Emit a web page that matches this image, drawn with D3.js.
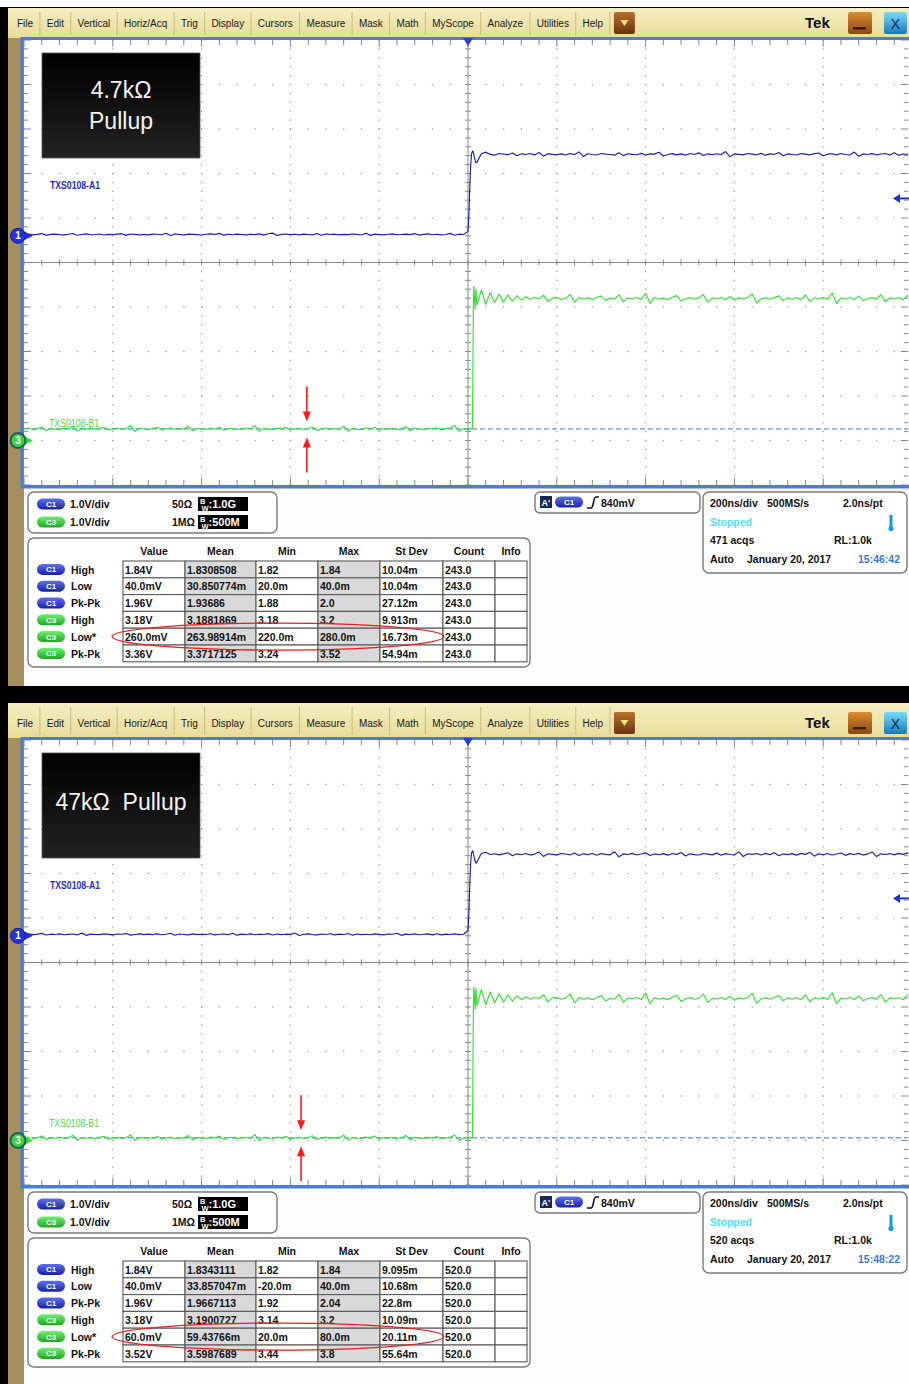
<!DOCTYPE html>
<html><head><meta charset="utf-8">
<script src="https://cdn.jsdelivr.net/npm/d3@7"></script>
<style>
body{margin:0;background:#fff}
svg{display:block}
text{font-family:"Liberation Sans",Arial,sans-serif}
</style>
</head><body>
<svg id="c" width="909" height="1384"></svg>
<script>
// ---------------- DATA ----------------
const menuItems = ["File","Edit","Vertical","Horiz/Acq","Trig","Display","Cursors","Measure","Mask","Math","MyScope","Analyze","Utilities","Help"];
const titleLines1 = ["4.7kΩ","Pullup"];
const titleLines2 = ["47kΩ  Pullup"];
const traceLabels = ["TXS0108-A1","TXS0108-B1"];
const channelNames = ["C1","C3"];
const channelScales = ["1.0V/div","1.0V/div"];
const channelImpedance = ["50Ω","1MΩ"];
const channelBandwidth = ["1.0G","500M"];
const channelPositionDiv = [0.6, -4.0];
const triggerLevelV = 0.84;
const triggerLabel = "840mV";
const timeDomainNs = [-1000, 1000];
const timebase = ["200ns/div","500MS/s","2.0ns/pt"];
const acqCounts = ["471 acqs","520 acqs"];
const recordLength = "RL:1.0k";
const acqDate = "January 20, 2017";
const acqTimes = ["15:46:42","15:48:22"];
const measColumns = ["Value","Mean","Min","Max","St Dev","Count","Info"];
const measRowChannels = ["C1","C1","C1","C3","C3","C3"];
const measRowNames = ["High","Low","Pk-Pk","High","Low*","Pk-Pk"];
const meas1 = [
 ["1.84V","1.8308508","1.82","1.84","10.04m","243.0",""],
 ["40.0mV","30.850774m","20.0m","40.0m","10.04m","243.0",""],
 ["1.96V","1.93686","1.88","2.0","27.12m","243.0",""],
 ["3.18V","3.1881869","3.18","3.2","9.913m","243.0",""],
 ["260.0mV","263.98914m","220.0m","280.0m","16.73m","243.0",""],
 ["3.36V","3.3717125","3.24","3.52","54.94m","243.0",""]];
const meas2 = [
 ["1.84V","1.8343111","1.82","1.84","9.095m","520.0",""],
 ["40.0mV","33.857047m","-20.0m","40.0m","10.68m","520.0",""],
 ["1.96V","1.9667113","1.92","2.04","22.8m","520.0",""],
 ["3.18V","3.1900727","3.14","3.2","10.09m","520.0",""],
 ["60.0mV","59.43766m","20.0m","80.0m","20.11m","520.0",""],
 ["3.52V","3.5987689","3.44","3.8","55.64m","520.0",""]];
const c3LowV = [0.26, 0.06];
const arrowTimeNs = [-363, -376];

// trace samples (mV): pre-trigger (-1000..-10 ns), edge (edgeTimes), post (20..1000 ns)
const edgeTimes = [0,2,4,6,8,10,11,12,13,14,16,18];
const c1Pre1 = [30,40,22,33,50,15,31,38,26,20,36,52,12,30,42,24,28,40,18,32,25,38,48,10,40,33,22,30,20,38,34,24,58,8,42,30,20,36,31,26,18,34,42,28,54,14,35,24,38,30,22,36,27,44,16,46,60,6,32,40,25,34,20,38,30,22,50,12,42,30,36,22,31,26,40,33,18,56,10,38,30,22,35,44,24,30,38,26,50,15,32,42,24,34,20,30,55,12,36,30];
const c1Edge1 = [100,480,1080,1580,1840,1900,1905,1880,1830,1780,1700,1640];
const c1Post1 = [1650,1845,1880,1830,1812,1848,1838,1820,1862,1800,1842,1826,1850,1818,1872,1790,1846,1830,1820,1842,1815,1848,1828,1886,1780,1844,1826,1816,1850,1836,1826,1812,1868,1802,1845,1830,1822,1852,1815,1840,1835,1878,1792,1828,1846,1818,1840,1812,1850,1828,1864,1806,1842,1822,1844,1828,1892,1774,1842,1830,1818,1850,1836,1820,1852,1812,1842,1826,1872,1798,1840,1828,1815,1848,1836,1820,1846,1860,1800,1834,1844,1818,1850,1828,1816,1882,1788,1840,1826,1846,1820,1838,1850,1814,1864,1808,1838,1826,1844];
const c3Pre1 = [265,280,248,262,305,222,275,256,245,278,258,315,212,270,250,282,255,272,295,235,260,276,248,268,335,200,280,258,246,272,290,236,262,280,250,268,255,320,215,270,262,248,282,255,300,228,270,276,246,262,280,255,330,205,272,260,245,278,266,292,235,260,276,248,270,305,222,258,280,250,270,256,322,210,276,252,246,285,258,296,232,270,255,278,245,262,310,220,280,258,248,272,258,288,240,266,278,335,205,265];
const c3Edge1 = [262,250,275,258,268,300,1500,3000,3470,3330,2960,3400];
const c3Post1 = [3050,3380,3060,3320,3100,3290,3110,3270,3130,3250,3160,3230,3170,3220,3180,3265,3125,3200,3215,3170,3195,3285,3105,3210,3175,3205,3165,3220,3245,3145,3200,3175,3275,3115,3205,3180,3215,3170,3305,3085,3210,3175,3200,3165,3220,3255,3135,3185,3210,3175,3205,3280,3110,3200,3180,3215,3170,3235,3155,3205,3180,3215,3295,3095,3180,3205,3175,3210,3250,3145,3205,3175,3215,3165,3270,3120,3205,3180,3210,3170,3315,3080,3205,3175,3215,3170,3245,3145,3185,3210,3175,3275,3115,3205,3180,3215,3165,3260,3135];
const c1Pre2 = [34,44,26,38,54,18,36,28,42,24,33,40,22,60,10,38,30,25,44,32,20,40,34,50,16,30,42,26,38,28,44,24,34,58,12,40,30,22,42,26,36,30,46,20,34,40,25,56,14,38,28,42,24,36,30,48,18,40,26,36,32,62,8,34,44,28,22,40,30,46,20,38,30,52,14,40,26,36,24,44,32,22,40,34,58,10,38,28,44,24,34,42,20,46,22,38,30,44,26,34];
const c1Edge2 = [120,540,1140,1640,1860,1910,1900,1860,1810,1760,1680,1630];
const c1Post2 = [1660,1850,1876,1826,1844,1818,1840,1866,1800,1842,1822,1850,1814,1836,1882,1784,1844,1830,1818,1848,1838,1816,1860,1806,1842,1824,1850,1812,1848,1830,1820,1890,1776,1840,1826,1852,1816,1838,1864,1804,1840,1822,1846,1812,1850,1830,1872,1794,1842,1824,1816,1850,1836,1818,1858,1810,1846,1826,1820,1886,1780,1844,1830,1850,1814,1852,1822,1868,1800,1840,1824,1846,1812,1852,1830,1878,1790,1842,1820,1848,1816,1838,1860,1808,1846,1826,1852,1814,1840,1884,1784,1842,1826,1848,1818,1852,1830,1864,1804];
const c3Pre2 = [60,72,45,62,100,22,70,50,76,48,62,115,10,68,50,70,45,74,95,28,58,70,46,62,125,2,72,52,66,46,92,30,60,74,44,64,52,110,14,68,60,46,76,58,98,24,64,72,44,58,74,50,130,-4,70,56,46,76,62,90,30,58,72,46,66,105,18,60,76,50,66,56,120,6,72,50,44,76,60,98,26,66,52,72,46,62,112,12,74,56,48,70,60,86,34,58,72,122,4,62];
const c3Edge2 = [62,70,50,65,55,90,1400,2900,3450,3350,2950,3420];
const c3Post2 = [3030,3390,3050,3340,3090,3300,3110,3270,3130,3250,3165,3230,3175,3215,3185,3275,3115,3205,3210,3175,3200,3295,3095,3210,3175,3205,3165,3215,3255,3135,3195,3175,3285,3105,3205,3180,3215,3170,3315,3075,3205,3175,3200,3165,3220,3265,3125,3185,3210,3175,3200,3290,3100,3195,3180,3215,3170,3240,3150,3205,3180,3215,3305,3085,3180,3205,3175,3215,3255,3140,3205,3175,3210,3165,3275,3115,3205,3180,3210,3170,3320,3075,3200,3180,3215,3170,3250,3140,3190,3210,3175,3280,3110,3205,3185,3215,3165,3265,3130];

// ---------------- DRAWING ----------------
const svg = d3.select("#c");
const defs = svg.append("defs");
function lg(id, a, b) {
  const g = defs.append("linearGradient").attr("id", id).attr("x1",0).attr("y1",0).attr("x2",0).attr("y2",1);
  g.append("stop").attr("offset","0%").attr("stop-color",a);
  g.append("stop").attr("offset","100%").attr("stop-color",b);
}
lg("menuG","#f5eec0","#e8dc9a");
lg("blueBadge","#6070f0","#1a22a8");
lg("greenBadge","#70f070","#1fa81f");
lg("brownBtn","#b8702c","#6a3410");
lg("orangeBtn","#dc8c30","#8a4812");
lg("cyanBtn","#78dcf8","#1a78c0");
lg("titleBox","#000000","#222222");

const panels = [
  {oy:0, menuTop:8, menuBottom:38, infoBottom:686, title:titleLines1, meas:meas1, acq:acqCounts[0], time:acqTimes[0], low:c3LowV[0], arrowT:arrowTimeNs[0],
   tr:[[c1Pre1,c1Edge1,c1Post1],[c3Pre1,c3Edge1,c3Post1]]},
  {oy:700, menuTop:703, menuBottom:738, infoBottom:1384, title:titleLines2, meas:meas2, acq:acqCounts[1], time:acqTimes[1], low:c3LowV[1], arrowT:arrowTimeNs[1],
   tr:[[c1Pre2,c1Edge2,c1Post2],[c3Pre2,c3Edge2,c3Post2]]}
];

svg.append("rect").attr("x",0).attr("y",0).attr("width",909).attr("height",1384).attr("fill","#fff");
svg.append("rect").attr("x",0).attr("y",7).attr("width",909).attr("height",2).attr("fill","#000");
svg.append("rect").attr("x",0).attr("y",7).attr("width",8).attr("height",1377).attr("fill","#000");
svg.append("rect").attr("x",0).attr("y",686).attr("width",909).attr("height",17).attr("fill","#000");

function badge(g, x, cy, ch) {
  g.append("rect").attr("x",x).attr("y",cy-5.5).attr("width",28).attr("height",11).attr("rx",5.5)
    .attr("fill", ch==="C1" ? "url(#blueBadge)" : "url(#greenBadge)");
  g.append("text").attr("x",x+14).attr("y",cy+3).attr("text-anchor","middle").attr("font-size",8)
    .attr("font-weight","bold").attr("fill","#fff").text(ch);
}

const chColors = ["#1e1eb4","#36e036"];

panels.forEach((P, pi) => {
  const oy = P.oy;
  const g = svg.append("g");
  g.append("rect").attr("x",8).attr("y",P.menuBottom).attr("width",16).attr("height",P.infoBottom-P.menuBottom).attr("fill","#a58f5a");
  g.append("rect").attr("x",24).attr("y",oy+488).attr("width",885).attr("height",P.infoBottom-(oy+488)).attr("fill","#fefefd");

  // ---- menu bar ----
  g.append("rect").attr("x",8).attr("y",P.menuTop).attr("width",901).attr("height",P.menuBottom-P.menuTop).attr("fill","url(#menuG)");
  let mx = 17, sx = 0;
  menuItems.forEach(m => {
    const t = g.append("text").attr("x",mx).attr("y",oy+27).attr("font-size",10).attr("fill","#1a1a1a").text(m);
    const w = t.node().getComputedTextLength();
    sx = mx + w + 6.8;
    g.append("line").attr("x1",sx).attr("x2",sx).attr("y1",P.menuTop+4).attr("y2",P.menuBottom-3).attr("stroke","#cbbd80").attr("stroke-width",1);
    mx = sx + 6.8;
  });
  g.append("rect").attr("x",sx+4).attr("y",oy+12).attr("width",21).attr("height",22).attr("rx",2).attr("fill","url(#brownBtn)");
  g.append("path").attr("d",`M${sx+10.5},${oy+20}L${sx+18.5},${oy+20}L${sx+14.5},${oy+26}Z`).attr("fill","#f7e27a");
  g.append("text").attr("x",805).attr("y",oy+28).attr("font-size",15).attr("font-weight","bold").attr("fill","#111").text("Tek");
  g.append("rect").attr("x",848).attr("y",oy+12).attr("width",24).attr("height",22).attr("rx",2).attr("fill","url(#orangeBtn)");
  g.append("rect").attr("x",853).attr("y",oy+27).attr("width",13).attr("height",2.5).attr("fill","#3a1a05");
  g.append("rect").attr("x",884).attr("y",oy+12).attr("width",23).attr("height",22).attr("rx",2).attr("fill","url(#cyanBtn)");
  g.append("text").attr("x",895.5).attr("y",oy+29).attr("text-anchor","middle").attr("font-size",14).attr("fill","#0a2850").text("X");

  // ---- graticule ----
  const x0 = 24, x1 = 909, y0 = oy+40, y1 = oy+485;
  const x = d3.scaleLinear().domain(timeDomainNs).range([24, 912]);
  const dv = d3.scaleLinear().domain([-5,5]).range([y1, y0]);
  const yCh = ci => v => dv(v + channelPositionDiv[ci]);
  g.append("rect").attr("x",x0).attr("y",y0).attr("width",x1-x0).attr("height",y1-y0).attr("fill","#fff");

  const clipId = "clip"+pi;
  defs.append("clipPath").attr("id",clipId).append("rect").attr("x",x0).attr("y",y0).attr("width",x1-x0-1).attr("height",y1-y0);
  const gg = g.append("g").attr("clip-path",`url(#${clipId})`);

  const divX = d3.range(-5,6).map(k => k*200);
  const minorXs = d3.range(-1000, 1001, 40);
  const minorDivs = d3.range(-5, 5.001, 0.2);
  divX.filter(t => t!==0 && Math.abs(t)!==1000).forEach(t => {
    minorDivs.forEach(d => {
      gg.append("rect").attr("x",x(t)-0.6).attr("y",dv(d)-0.6).attr("width",1.2).attr("height",1.3).attr("fill","#9a9a9a");
    });
  });
  d3.range(-4,5).filter(d => d!==0).forEach(d => {
    minorXs.forEach(t => {
      gg.append("rect").attr("x",x(t)-0.6).attr("y",dv(d)-0.6).attr("width",1.3).attr("height",1.2).attr("fill","#9a9a9a");
    });
  });
  const tickCol = "#7c86a6";
  gg.append("line").attr("x1",x0).attr("x2",x1).attr("y1",dv(0)).attr("y2",dv(0)).attr("stroke","#8a8a8a").attr("stroke-width",1);
  gg.append("line").attr("x1",x(0)).attr("x2",x(0)).attr("y1",y0).attr("y2",y1).attr("stroke","#8a8a8a").attr("stroke-width",1);
  minorXs.forEach(t => {
    gg.append("line").attr("x1",x(t)).attr("x2",x(t)).attr("y1",dv(0)-3).attr("y2",dv(0)+3).attr("stroke","#8a8a8a");
  });
  minorDivs.forEach(d => {
    gg.append("line").attr("x1",x(0)-3).attr("x2",x(0)+3).attr("y1",dv(d)).attr("y2",dv(d)).attr("stroke","#8a8a8a");
  });
  minorXs.forEach(t => {
    const maj = Math.abs(t % 200) < 1;
    const L = maj ? 7 : 5;
    gg.append("line").attr("x1",x(t)).attr("x2",x(t)).attr("y1",y0).attr("y2",y0+L).attr("stroke",tickCol);
    gg.append("line").attr("x1",x(t)).attr("x2",x(t)).attr("y1",y1).attr("y2",y1-L).attr("stroke",tickCol);
  });
  minorDivs.forEach(d => {
    const maj = Math.abs(d - Math.round(d)) < 0.01;
    const L = maj ? 7 : 4;
    gg.append("line").attr("x1",x0).attr("x2",x0+L).attr("y1",dv(d)).attr("y2",dv(d)).attr("stroke",tickCol);
    gg.append("line").attr("x1",x1-1).attr("x2",x1-1-L).attr("y1",dv(d)).attr("y2",dv(d)).attr("stroke",tickCol);
  });

  gg.append("line").attr("x1",x0).attr("x2",x1).attr("y1",yCh(1)(P.low)).attr("y2",yCh(1)(P.low))
    .attr("stroke","#3f72d4").attr("stroke-width",1).attr("stroke-dasharray","5,3");

  P.tr.forEach((tr, ci) => {
    const [pre, edge, post] = tr;
    const sp = d3.scaleLinear().domain([0, pre.length-1]).range([-1000,-10]);
    const so = d3.scaleLinear().domain([0, post.length-1]).range([20,1000]);
    const pts = [...pre.map((v,i)=>({t:sp(i), v})), ...edge.map((v,i)=>({t:edgeTimes[i], v})), ...post.map((v,i)=>({t:so(i), v}))];
    const yf = yCh(ci);
    gg.append("path").datum(pts)
      .attr("d", d3.line().x(d=>x(d.t)).y(d=>yf(d.v/1000)))
      .attr("fill","none").attr("stroke",chColors[ci]).attr("stroke-width",1.15).attr("stroke-linejoin","round");
  });

  g.append("rect").attr("x",22).attr("y",y0-1.5).attr("width",890).attr("height",y1-y0+3)
    .attr("fill","none").attr("stroke","#4a7dd6").attr("stroke-width",3);
  g.append("line").attr("x1",22).attr("x2",909).attr("y1",y1+2.5).attr("y2",y1+2.5).attr("stroke","#4a7dd6").attr("stroke-width",2);

  g.append("path").attr("d",`M${x(0)-5},${y0-2}L${x(0)+5},${y0-2}L${x(0)},${y0+6}Z`).attr("fill","#2a3fcf");
  const ty = yCh(0)(triggerLevelV);
  g.append("path").attr("d",`M893,${ty}L900,${ty-4.5}L900,${ty+4.5}Z`).attr("fill","#2233cc");
  g.append("line").attr("x1",899).attr("x2",909).attr("y1",ty).attr("y2",ty).attr("stroke","#2233cc").attr("stroke-width",2);

  [0,1].forEach(ci => {
    const gy = yCh(ci)(0);
    g.append("path").attr("d",`M24,${gy-4.5}L33,${gy}L24,${gy+4.5}Z`).attr("fill", ci===0 ? "#2233dd" : "#33dd33");
    g.append("circle").attr("cx",18).attr("cy",gy).attr("r",7.5)
      .attr("fill", ci===0 ? "#2233dd" : "#3ad43a").attr("stroke", ci===0 ? "#1a1a99" : "#1b5e66").attr("stroke-width", ci===0 ? 1 : 2);
    g.append("text").attr("x",18).attr("y",gy+3.5).attr("text-anchor","middle").attr("font-size",10).attr("font-weight","bold")
      .attr("fill","#fff").text(ci===0 ? "1" : "3");
  });

  g.append("text").attr("x",50).attr("y",oy+189).attr("font-size",10.5).attr("font-weight","bold")
    .attr("textLength",50).attr("lengthAdjust","spacingAndGlyphs").attr("fill","#2a2ad0").text(traceLabels[0]);
  g.append("text").attr("x",49).attr("y",oy+427).attr("font-size",10.5)
    .attr("textLength",50).attr("lengthAdjust","spacingAndGlyphs").attr("fill","#4ad84a").text(traceLabels[1]);

  g.append("rect").attr("x",42).attr("y",oy+53).attr("width",158).attr("height",105).attr("fill","url(#titleBox)")
    .attr("stroke","#555").attr("stroke-width",0.8);
  if (P.title.length === 2) {
    g.append("text").attr("x",121).attr("y",oy+98).attr("text-anchor","middle").attr("font-family","Open Sans")
      .attr("font-size",23).attr("fill","#f2f2f2").text(P.title[0]);
    g.append("text").attr("x",121).attr("y",oy+129).attr("text-anchor","middle").attr("font-family","Open Sans")
      .attr("font-size",23).attr("fill","#f2f2f2").text(P.title[1]);
  } else {
    g.append("text").attr("x",121).attr("y",oy+110).attr("text-anchor","middle").attr("font-family","Open Sans")
      .attr("font-size",23).attr("fill","#f2f2f2").attr("xml:space","preserve").style("white-space","pre").text(P.title[0]);
  }

  const ax = x(P.arrowT), ly = yCh(1)(P.low);
  const dTip = ly - 7.5, uTip = ly + 8.5;
  g.append("line").attr("x1",ax).attr("x2",ax).attr("y1",dTip-35).attr("y2",dTip-8).attr("stroke","#ff1a1a").attr("stroke-width",1.6);
  g.append("path").attr("d",`M${ax-4},${dTip-10}L${ax+4},${dTip-10}L${ax},${dTip}Z`).attr("fill","#ff1a1a");
  g.append("line").attr("x1",ax).attr("x2",ax).attr("y1",uTip+8).attr("y2",uTip+35).attr("stroke","#ff1a1a").attr("stroke-width",1.6);
  g.append("path").attr("d",`M${ax-4},${uTip+10}L${ax+4},${uTip+10}L${ax},${uTip}Z`).attr("fill","#ff1a1a");

  // ---- info area ----
  const fs = 10.5;
  const T = (xx, yy, s, opt={}) => g.append("text").attr("x",xx).attr("y",yy).attr("font-size",opt.fs||fs)
     .attr("font-weight",opt.w||"bold").attr("fill",opt.c||"#111").attr("text-anchor",opt.a||"start").text(s);
  g.append("rect").attr("x",28).attr("y",oy+492).attr("width",249).attr("height",41).attr("rx",6)
    .attr("fill","#fff").attr("stroke","#7a7a7a").attr("stroke-width",1.4);
  [0,1].forEach(ci => {
    const cy = oy + 504 + ci*18;
    badge(g, 37, cy, channelNames[ci]);
    T(70, cy+4, channelScales[ci]);
    T(172, cy+4, channelImpedance[ci]);
    g.append("rect").attr("x",198).attr("y",cy-7).attr("width",50).attr("height",14).attr("fill","#000");
    const bt = g.append("text").attr("x",200).attr("y",cy+4).attr("fill","#fff").attr("font-weight","bold");
    bt.append("tspan").attr("font-size",7.5).attr("dy",-4).text("B");
    bt.append("tspan").attr("font-size",7.5).attr("dx",-4).attr("dy",7).text("W");
    bt.append("tspan").attr("font-size",11).attr("dy",-3).text(":" + channelBandwidth[ci]);
  });
  g.append("rect").attr("x",535).attr("y",oy+492).attr("width",165).attr("height",21).attr("rx",5)
    .attr("fill","#fff").attr("stroke","#7a7a7a").attr("stroke-width",1.4);
  g.append("rect").attr("x",540).attr("y",oy+496).attr("width",12).attr("height",12).attr("fill","#1b2a55");
  T(541.5, oy+506, "A'", {fs:9, c:"#fff"});
  badge(g, 555, oy+502, "C1");
  g.append("path").attr("d",`M587,${oy+508}L591,${oy+508}C594,${oy+508} 593,${oy+497} 596,${oy+497}L599,${oy+497}`)
    .attr("fill","none").attr("stroke","#111").attr("stroke-width",1.6);
  T(601, oy+507, triggerLabel);
  g.append("rect").attr("x",703).attr("y",oy+492).attr("width",204).attr("height",81).attr("rx",6)
    .attr("fill","#fff").attr("stroke","#7a7a7a").attr("stroke-width",1.4);
  T(710, oy+507, timebase[0]);
  T(767, oy+507, timebase[1]);
  T(843, oy+507, timebase[2]);
  T(710, oy+526, "Stopped", {c:"#52dff0"});
  g.append("rect").attr("x",889.5).attr("y",oy+515).attr("width",3).attr("height",12).attr("fill","#1a9ad6");
  g.append("circle").attr("cx",891).attr("cy",oy+528.5).attr("r",2.6).attr("fill","#1a9ad6");
  T(710, oy+544, P.acq);
  T(834, oy+544, recordLength);
  T(710, oy+563, "Auto");
  T(747, oy+563, acqDate);
  T(858, oy+563, P.time, {c:"#3a7ad8"});

  g.append("rect").attr("x",28).attr("y",oy+538).attr("width",502).attr("height",129).attr("rx",6)
    .attr("fill","#fff").attr("stroke","#7a7a7a").attr("stroke-width",1.4);
  const colX = [123,185,256,318,380,443,495,527];
  const rowTop = oy + 561, rowH = 16.8;
  measColumns.forEach((c, i) => T((colX[i]+colX[i+1])/2, oy+555, c, {a:"middle"}));
  P.meas.forEach((row, ri) => {
    const ry = rowTop + ri*rowH;
    badge(g, 37, ry + rowH/2, measRowChannels[ri]);
    T(71, ry + 12.5, measRowNames[ri]);
    row.forEach((cell, i) => {
      g.append("rect").attr("x",colX[i]).attr("y",ry).attr("width",colX[i+1]-colX[i]).attr("height",rowH)
        .attr("fill", (i===1||i===3) ? "#d9d9d9" : "#fff").attr("stroke","#5a5a5a").attr("stroke-width",1.1);
      if (cell) T(colX[i]+2, ry+12.5, cell);
    });
  });
  g.append("ellipse").attr("cx",278).attr("cy",rowTop + 4*rowH + rowH/2).attr("rx",166).attr("ry",13.5)
    .attr("fill","none").attr("stroke","#ee1c1c").attr("stroke-width",1.3);
});
</script>
</body></html>
